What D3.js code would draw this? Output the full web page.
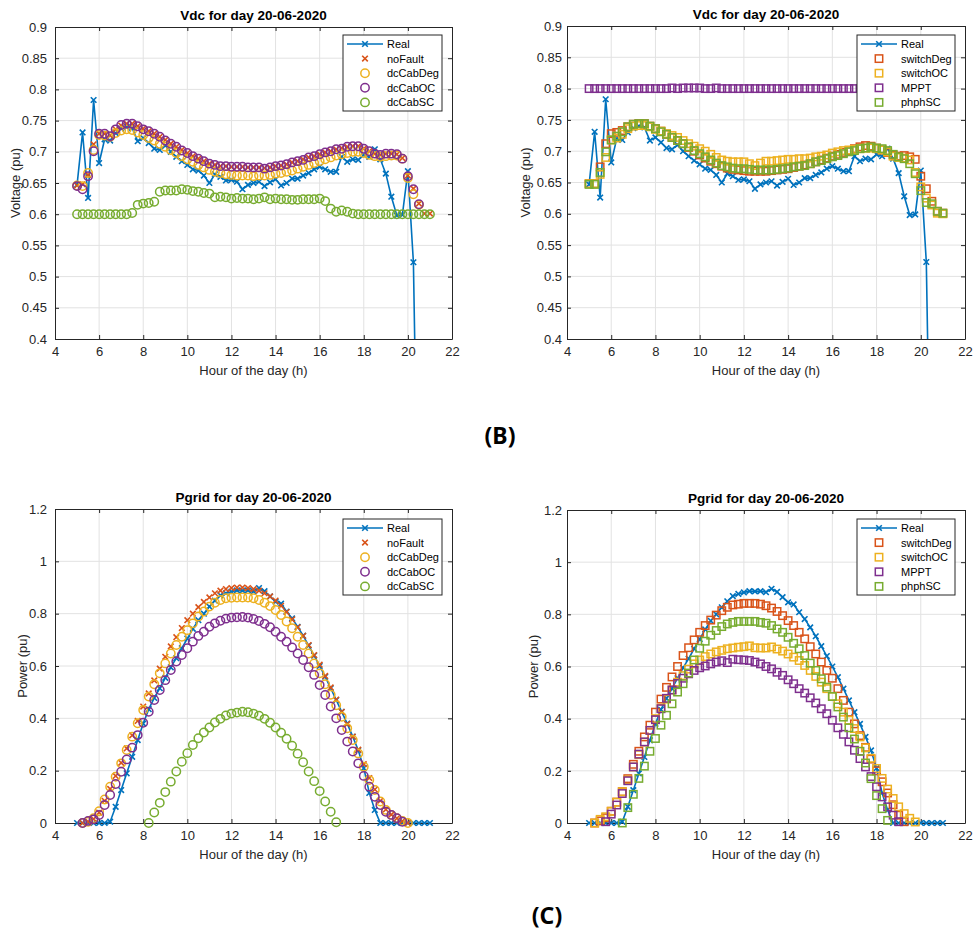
<!DOCTYPE html>
<html><head><meta charset="utf-8">
<script src="https://cdn.jsdelivr.net/npm/d3@7"></script>
<style>body{margin:0;background:#fff;} svg{display:block;font-family:Arial,"Liberation Sans",Helvetica,sans-serif;}</style>
</head><body><svg id="c" width="973" height="934"></svg>
<script>
// ---------- data ----------
const hours = [5,5.25,5.5,5.75,6,6.25,6.5,6.75,7,7.25,7.5,7.75,8,8.25,8.5,8.75,9,9.25,9.5,9.75,10,10.25,10.5,10.75,11,11.25,11.5,11.75,12,12.25,12.5,12.75,13,13.25,13.5,13.75,14,14.25,14.5,14.75,15,15.25,15.5,15.75,16,16.25,16.5,16.75,17,17.25,17.5,17.75,18,18.25,18.5,18.75,19,19.25,19.5,19.75,20,20.25,20.5,20.75,21];
const hourTicks = [4,6,8,10,12,14,16,18,20,22];
const vdcTicks = [0.4,0.45,0.5,0.55,0.6,0.65,0.7,0.75,0.8,0.85,0.9];
const powerTicks = [0,0.2,0.4,0.6,0.8,1,1.2];

// Vdc (pu)
const realVdc = [0.647,0.731,0.626,0.783,0.682,0.720,0.718,0.730,0.737,0.740,
 0.738,0.717,0.722,0.714,0.705,0.703,0.710,0.700,0.692,0.685,
 0.679,0.672,0.670,0.662,0.650,0.664,0.660,0.654,0.655,0.652,
 0.640,0.647,0.650,0.652,0.645,0.651,0.656,0.646,0.650,0.657,
 0.657,0.662,0.666,0.672,0.676,0.672,0.668,0.668,0.692,0.684,
 0.688,0.687,0.695,0.692,0.704,0.688,0.665,0.628,0.598,0.599,
 0.669,0.523,0,0,0];
const noFaultVdc = [0.646,0.648,0.663,0.712,0.729,0.729,0.726,0.736,0.742,0.745,
 0.745,0.741,0.737,0.733,0.729,0.724,0.719,0.713,0.708,0.703,
 0.698,0.693,0.689,0.685,0.681,0.679,0.677,0.677,0.676,0.676,
 0.676,0.675,0.675,0.675,0.674,0.675,0.677,0.678,0.680,0.683,
 0.685,0.688,0.691,0.693,0.696,0.699,0.701,0.704,0.706,0.708,
 0.709,0.709,0.705,0.701,0.697,0.695,0.697,0.697,0.696,0.690,
 0.662,0.641,0.617,0.601,0.601];
const dcCabDegVdc = [0.646,0.645,0.666,0.703,0.727,0.726,0.724,0.730,0.734,0.736,
 0.735,0.731,0.727,0.722,0.718,0.713,0.708,0.703,0.698,0.693,
 0.688,0.684,0.679,0.675,0.671,0.668,0.666,0.664,0.663,0.662,
 0.662,0.662,0.661,0.662,0.662,0.663,0.665,0.666,0.668,0.670,
 0.673,0.676,0.679,0.682,0.685,0.688,0.691,0.694,0.696,0.698,
 0.700,0.700,0.698,0.695,0.693,0.692,0.693,0.694,0.694,0.689,
 0.658,0.632,0.615,null,null];
const dcCabOCVdc = [0.645,0.640,0.661,0.701,0.729,0.729,0.725,0.736,0.743,0.745,
 0.745,0.741,0.736,0.733,0.729,0.724,0.718,0.713,0.708,0.702,
 0.698,0.693,0.689,0.685,0.681,0.679,0.677,0.677,0.676,0.676,
 0.676,0.675,0.675,0.675,0.673,0.675,0.677,0.678,0.680,0.683,
 0.685,0.687,0.691,0.693,0.696,0.699,0.701,0.704,0.705,0.708,
 0.709,0.709,0.705,0.701,0.697,0.695,0.697,0.697,0.696,0.689,
 0.661,0.640,0.616,null,null];
const dcCabSCVdc = [0.600,0.600,0.600,0.600,0.600,0.600,0.600,0.600,0.600,0.600,
 0.602,0.615,0.617,0.618,0.620,0.636,0.638,0.638,0.638,0.640,
 0.639,0.637,0.636,0.634,0.633,0.627,0.628,0.627,0.625,0.626,
 0.625,0.625,0.624,0.625,0.627,0.624,0.625,0.624,0.624,0.623,
 0.623,0.624,0.624,0.624,0.625,0.621,0.609,0.604,0.606,0.604,
 0.601,0.600,0.600,0.600,0.600,0.600,0.600,0.600,0.600,0.600,
 0.600,0.600,0.600,0.600,0.600];
const switchDegVdc = [0.648,0.648,0.675,0.712,0.728,0.730,0.733,0.739,0.743,0.744,
 0.744,0.740,0.736,0.732,0.727,0.722,0.717,0.712,0.706,0.700,
 0.694,0.689,0.684,0.680,0.676,0.673,0.671,0.670,0.669,0.668,
 0.668,0.668,0.668,0.669,0.670,0.671,0.672,0.674,0.676,0.678,
 0.680,0.683,0.686,0.689,0.692,0.695,0.698,0.701,0.704,0.707,
 0.709,0.708,0.705,0.702,0.698,0.694,0.692,0.693,0.691,0.687,
 0.660,0.640,0.620,0.604,0.601];
const switchOCVdc = [0.648,0.648,0.663,0.690,0.718,0.721,0.727,0.736,0.740,0.741,
 0.741,0.739,0.735,0.732,0.728,0.725,0.722,0.717,0.712,0.708,
 0.704,0.700,0.695,0.690,0.686,0.684,0.683,0.683,0.683,0.680,
 0.677,0.681,0.684,0.684,0.685,0.686,0.687,0.687,0.688,0.688,
 0.689,0.691,0.692,0.694,0.697,0.699,0.701,0.702,0.703,0.704,
 0.705,0.705,0.704,0.702,0.699,0.692,0.690,0.689,0.686,0.666,
 0.643,0.625,0.614,0.601,0.600];
const mpptVdc = [0.800,0.800,0.800,0.800,0.800,0.800,0.800,0.800,0.800,0.800,
 0.800,0.800,0.800,0.800,0.800,0.801,0.800,0.801,0.801,0.801,
 0.801,0.800,0.800,0.801,0.800,0.800,0.800,0.800,0.800,0.800,
 0.800,0.800,0.800,0.800,0.800,0.800,0.800,0.800,0.800,0.800,
 0.800,0.800,0.800,0.800,0.800,0.800,0.800,0.800,0.800,0.800,
 0.800,0.800,0.800,0.800,0.800,0.800,0.800,0.800,0.800,0.800,
 0.800,0.800,0.800,0.800,0.800];
const phphSCVdc = [0.647,0.647,0.666,0.699,0.718,0.724,0.731,0.739,0.743,0.744,
 0.744,0.740,0.736,0.731,0.727,0.722,0.717,0.712,0.707,0.701,
 0.696,0.691,0.686,0.681,0.677,0.675,0.673,0.672,0.672,0.671,
 0.670,0.670,0.670,0.670,0.671,0.672,0.673,0.675,0.676,0.677,
 0.680,0.683,0.685,0.688,0.691,0.693,0.696,0.699,0.701,0.704,
 0.705,0.707,0.705,0.704,0.701,0.695,0.691,0.688,0.680,0.664,
 0.637,0.618,0.616,0.604,0.601];

// Pgrid (pu)
const realP = [0,0,0,0,0,0,0.005,0.062,0.126,0.19,
 0.253,0.317,0.38,0.435,0.478,0.515,0.555,0.595,0.63,0.668,
 0.705,0.742,0.775,0.80,0.827,0.85,0.87,0.878,0.884,0.889,
 0.888,0.889,0.885,0.898,0.886,0.866,0.846,0.838,0.808,0.782,
 0.75,0.716,0.678,0.64,0.60,0.559,0.515,0.47,0.425,0.38,
 0.33,0.278,0.21,0.115,0.05,0,0,0,0,0,
 0,0,0,0,0];
const noFaultP = [null,0,0.005,0.015,0.04,0.085,0.13,0.18,0.23,0.285,
 0.335,0.39,0.445,0.495,0.545,0.59,0.635,0.675,0.71,0.745,
 0.775,0.80,0.825,0.845,0.862,0.878,0.888,0.894,0.898,0.90,
 0.90,0.898,0.894,0.888,0.878,0.866,0.85,0.83,0.806,0.778,
 0.748,0.715,0.68,0.642,0.605,0.562,0.518,0.472,0.425,0.378,
 0.33,0.28,0.225,0.172,0.128,0.085,0.052,0.032,0.018,0.007,
 0,null,null,null,null];
const dcCabDegP = [null,0,0.005,0.018,0.045,0.09,0.139,0.177,0.228,0.279,
 0.33,0.381,0.432,0.483,0.53,0.572,0.61,0.648,0.68,0.712,
 0.737,0.763,0.789,0.808,0.827,0.842,0.852,0.859,0.861,0.862,
 0.862,0.862,0.859,0.852,0.842,0.829,0.814,0.795,0.77,0.744,
 0.712,0.68,0.648,0.61,0.572,0.53,0.49,0.45,0.406,0.362,
 0.317,0.266,0.215,0.164,0.126,0.082,0.05,0.031,0.018,0.008,
 0,null,null,null,null];
const dcCabOCP = [null,0,0.008,0.014,0.031,0.069,0.107,0.149,0.196,0.243,
 0.288,0.336,0.383,0.425,0.47,0.508,0.546,0.585,0.617,0.642,
 0.668,0.693,0.715,0.731,0.75,0.763,0.773,0.781,0.785,0.786,
 0.787,0.785,0.78,0.772,0.761,0.748,0.731,0.712,0.693,0.671,
 0.648,0.623,0.595,0.566,0.527,0.489,0.445,0.4,0.355,0.311,
 0.273,0.228,0.18,0.139,0.1,0.069,0.043,0.031,0.018,0.005,
 null,null,null,null,null];
const dcCabSCP = [null,null,null,null,null,null,null,null,null,null,
 null,null,null,0,0.04,0.077,0.118,0.158,0.197,0.234,
 0.267,0.298,0.324,0.346,0.365,0.384,0.398,0.411,0.418,0.422,
 0.425,0.423,0.418,0.41,0.398,0.383,0.365,0.345,0.322,0.295,
 0.265,0.232,0.197,0.16,0.122,0.082,0.043,0.003,null,null,
 null,null,null,null,null,null,null,null,null,null,
 null,null,null,null,null];
const switchDegP = [null,0,0.008,0.02,0.045,0.08,0.12,0.17,0.225,0.275,
 0.33,0.375,0.425,0.475,0.52,0.56,0.6,0.642,0.672,0.702,
 0.731,0.757,0.778,0.797,0.814,0.827,0.836,0.839,0.842,0.842,
 0.842,0.839,0.833,0.824,0.811,0.795,0.776,0.757,0.731,0.706,
 0.676,0.648,0.617,0.585,0.555,0.515,0.47,0.425,0.38,0.335,
 0.29,0.245,0.2,0.158,0.115,0.07,0.03,0.005,null,null,
 null,null,null,null,null];
const switchOCP = [null,0,0.014,0.024,0.045,0.08,0.12,0.165,0.215,0.262,
 0.31,0.355,0.40,0.44,0.475,0.51,0.54,0.565,0.59,0.61,
 0.625,0.638,0.648,0.656,0.662,0.668,0.671,0.674,0.676,0.679,
 0.672,0.671,0.671,0.675,0.667,0.659,0.648,0.636,0.623,0.604,
 0.585,0.562,0.54,0.515,0.485,0.457,0.425,0.394,0.362,0.33,
 0.288,0.248,0.209,0.171,0.13,0.094,0.062,0.036,0.018,0.004,
 null,null,null,null,null];
const mpptP = [null,null,null,0.005,0.034,0.069,0.113,0.162,0.215,0.264,
 0.311,0.355,0.396,0.438,0.478,0.51,0.535,0.555,0.572,0.585,
 0.595,0.602,0.61,0.617,0.622,0.615,0.628,0.626,0.625,0.623,
 0.617,0.61,0.6,0.591,0.578,0.566,0.549,0.534,0.515,0.498,
 0.48,0.46,0.438,0.419,0.394,0.365,0.34,0.311,0.279,0.247,
 0.215,0.178,0.139,0.1,0.062,0.03,0.005,null,null,null,
 null,null,null,null,null];
const phphSCP = [null,null,null,null,null,null,0,0.059,0.11,0.171,
 0.218,0.275,0.324,0.375,0.413,0.457,0.502,0.534,0.575,0.625,
 0.67,0.697,0.72,0.738,0.753,0.763,0.769,0.773,0.773,0.773,
 0.773,0.769,0.766,0.757,0.744,0.731,0.712,0.689,0.668,0.642,
 0.613,0.585,0.553,0.521,0.485,0.445,0.406,0.365,0.322,0.275,
 0.23,0.17,0.105,0.055,0.01,null,null,null,null,null,
 null,null,null,null,null];

// ---------- styling ----------
const C = {blue:"#0072BD", orange:"#D95319", yellow:"#EDB120", purple:"#7E2F8E", green:"#77AC30"};
const axisColor = "#262626";
const gridColor = "#e2e2e2";

const panels = [
 {x:55, y:27, w:397, h:312, title:"Vdc for day 20-06-2020", ylabel:"Voltage (pu)", yDomain:[0.4,0.9], yTicks:vdcTicks,
  ylabX:20, tickGap:8, legend:{x:343,y:35,w:99,h:76},
  series:[["Real",realVdc,"xline",C.blue],["noFault",noFaultVdc,"x",C.orange],["dcCabDeg",dcCabDegVdc,"o",C.yellow],["dcCabOC",dcCabOCVdc,"o",C.purple],["dcCabSC",dcCabSCVdc,"o",C.green]]},
 {x:567, y:26, w:398, h:313, title:"Vdc for day 20-06-2020", ylabel:"Voltage (pu)", yDomain:[0.4,0.9], yTicks:vdcTicks,
  ylabX:530, tickGap:5, legend:{x:857,y:35,w:98,h:76},
  series:[["Real",realVdc,"xline",C.blue],["switchDeg",switchDegVdc,"s",C.orange],["switchOC",switchOCVdc,"s",C.yellow],["MPPT",mpptVdc,"s",C.purple],["phphSC",phphSCVdc,"s",C.green]]},
 {x:55, y:509, w:397, h:314, title:"Pgrid for day 20-06-2020", ylabel:"Power (pu)", yDomain:[0,1.2], yTicks:powerTicks,
  ylabX:27, tickGap:8, legend:{x:343,y:519,w:99,h:76},
  series:[["Real",realP,"xline",C.blue],["noFault",noFaultP,"x",C.orange],["dcCabDeg",dcCabDegP,"o",C.yellow],["dcCabOC",dcCabOCP,"o",C.purple],["dcCabSC",dcCabSCP,"o",C.green]]},
 {x:567, y:510, w:398, h:313, title:"Pgrid for day 20-06-2020", ylabel:"Power (pu)", yDomain:[0,1.2], yTicks:powerTicks,
  ylabX:538, tickGap:5, legend:{x:857,y:519,w:98,h:76},
  series:[["Real",realP,"xline",C.blue],["switchDeg",switchDegP,"s",C.orange],["switchOC",switchOCP,"s",C.yellow],["MPPT",mpptP,"s",C.purple],["phphSC",phphSCP,"s",C.green]]}
];

const svg = d3.select("#c");
const defs = svg.append("defs");

function drawMarker(g, pts, type, color) {
  if (type === "o") {
    g.selectAll(null).data(pts).join("circle")
      .attr("cx", d => d[0]).attr("cy", d => d[1]).attr("r", 4.2)
      .attr("fill", "none").attr("stroke", color).attr("stroke-width", 1.5);
  } else if (type === "s") {
    g.selectAll(null).data(pts).join("rect")
      .attr("x", d => d[0] - 3.7).attr("y", d => d[1] - 3.7).attr("width", 7.4).attr("height", 7.4)
      .attr("fill", "none").attr("stroke", color).attr("stroke-width", 1.5);
  } else {
    const a = 2.8;
    g.selectAll(null).data(pts).join("path")
      .attr("d", d => `M${d[0]-a},${d[1]-a}L${d[0]+a},${d[1]+a}M${d[0]-a},${d[1]+a}L${d[0]+a},${d[1]-a}`)
      .attr("fill", "none").attr("stroke", color).attr("stroke-width", 1.6);
  }
}

panels.forEach((p, pi) => {
  const g = svg.append("g").attr("transform", `translate(${p.x},${p.y})`);
  const x = d3.scaleLinear().domain([4, 22]).range([0, p.w]);
  const y = d3.scaleLinear().domain(p.yDomain).range([p.h, 0]);

  // grid
  g.append("g").selectAll("line").data(hourTicks.slice(1, -1)).join("line")
    .attr("x1", d => x(d)).attr("x2", d => x(d)).attr("y1", 0).attr("y2", p.h)
    .attr("stroke", gridColor).attr("stroke-width", 1);
  g.append("g").selectAll("line").data(p.yTicks.slice(1, -1)).join("line")
    .attr("y1", d => y(d)).attr("y2", d => y(d)).attr("x1", 0).attr("x2", p.w)
    .attr("stroke", gridColor).attr("stroke-width", 1);

  // axes
  const fmt = d => String(d);
  const axB = g.append("g").attr("transform", `translate(0,${p.h})`)
    .call(d3.axisBottom(x).tickValues(hourTicks).tickSizeInner(-4).tickSizeOuter(0).tickPadding(8).tickFormat(fmt));
  const axT = g.append("g")
    .call(d3.axisTop(x).tickValues(hourTicks).tickSizeInner(-4).tickSizeOuter(0).tickFormat(""));
  const axL = g.append("g")
    .call(d3.axisLeft(y).tickValues(p.yTicks).tickSizeInner(-4).tickSizeOuter(0).tickPadding(p.tickGap).tickFormat(fmt));
  const axR = g.append("g").attr("transform", `translate(${p.w},0)`)
    .call(d3.axisRight(y).tickValues(p.yTicks).tickSizeInner(-4).tickSizeOuter(0).tickFormat(""));
  [axB, axT, axL, axR].forEach(a => {
    a.select(".domain").attr("stroke", axisColor).attr("stroke-width", 1);
    a.selectAll(".tick line").attr("stroke", axisColor).attr("stroke-width", 1);
    a.selectAll(".tick text").attr("fill", axisColor).attr("font-size", 13)
      .attr("font-family", "Arial, 'Liberation Sans', Helvetica, sans-serif");
  });

  // clip for lines
  const cid = "clip" + pi;
  defs.append("clipPath").attr("id", cid).append("rect").attr("x", 0).attr("y", 0).attr("width", p.w).attr("height", p.h);

  const [y0, y1] = p.yDomain;
  p.series.forEach(([name, vals, type, color]) => {
    const pts = hours.map((h, i) => [h, vals[i]]).filter(d => d[1] !== null);
    if (type === "xline") {
      g.append("path").attr("clip-path", `url(#${cid})`)
        .datum(pts)
        .attr("d", d3.line().x(d => x(d[0])).y(d => y(d[1])))
        .attr("fill", "none").attr("stroke", color).attr("stroke-width", 1.6);
    }
    const inPts = pts.filter(d => d[1] >= y0 - 1e-9 && d[1] <= y1 + 1e-9).map(d => [x(d[0]), y(d[1])]);
    drawMarker(g.append("g"), inPts, type === "xline" ? "x" : type, color);
  });

  // title
  g.append("text").attr("x", p.w / 2).attr("y", -7).attr("text-anchor", "middle")
    .attr("font-size", 13.5).attr("font-weight", "bold").attr("fill", "#000").text(p.title);
  // x label
  g.append("text").attr("x", p.w / 2).attr("y", p.h + 36).attr("text-anchor", "middle")
    .attr("font-size", 13).attr("fill", axisColor).text("Hour of the day (h)");
  // y label
  svg.append("text").attr("transform", `translate(${p.ylabX},${p.y + p.h / 2}) rotate(-90)`)
    .attr("text-anchor", "middle").attr("font-size", 13).attr("fill", axisColor).text(p.ylabel);

  // legend
  const L = p.legend;
  const lg = svg.append("g").attr("transform", `translate(${L.x},${L.y})`);
  lg.append("rect").attr("x", 0).attr("y", 0).attr("width", L.w).attr("height", L.h)
    .attr("fill", "#fff").attr("stroke", axisColor).attr("stroke-width", 1);
  p.series.forEach(([name, vals, type, color], i) => {
    const cy = 9 + i * 14.6;
    if (type === "xline") {
      lg.append("line").attr("x1", 4).attr("x2", 40).attr("y1", cy).attr("y2", cy)
        .attr("stroke", color).attr("stroke-width", 1.6);
    }
    drawMarker(lg.append("g"), [[22, cy]], type === "xline" ? "x" : type, color);
    lg.append("text").attr("x", 44).attr("y", cy + 4).attr("font-size", 11).attr("fill", "#000").text(name);
  });
});

// panel labels
svg.append("text").attr("x", 500).attr("y", 444).attr("text-anchor", "middle")
  .attr("font-family", "'Noto Sans', 'Open Sans', sans-serif").attr("font-weight", "bold").attr("font-size", 23).attr("fill", "#000").text("(B)");
svg.append("text").attr("x", 547).attr("y", 924).attr("text-anchor", "middle")
  .attr("font-family", "'Noto Sans', 'Open Sans', sans-serif").attr("font-weight", "bold").attr("font-size", 23).attr("fill", "#000").text("(C)");
</script></body></html>
